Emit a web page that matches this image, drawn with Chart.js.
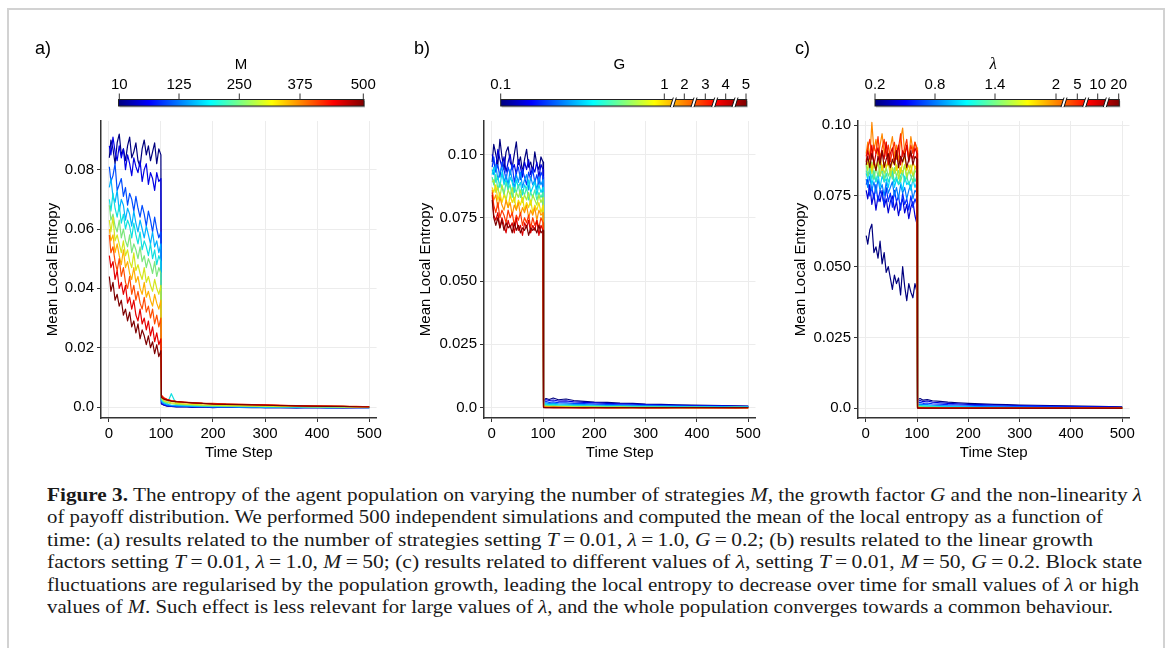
<!DOCTYPE html>
<html>
<head>
<meta charset="utf-8">
<script src="https://cdn.jsdelivr.net/npm/chart.js@4.4.0/dist/chart.umd.min.js"></script>
<style>
html, body { margin: 0; padding: 0; background: #fff; }
body { width: 1167px; height: 648px; position: relative; overflow: hidden; font-family: 'Liberation Sans', Arial, sans-serif; }
.frame { position: absolute; left: 7px; top: 8px; width: 1154px; height: 700px; border: 2px solid #d2d2d2; }
canvas { position: absolute; }
#overlay { position: absolute; left: 0; top: 0; }
.cap { position: absolute; left: 47px; white-space: nowrap; font-family: 'Liberation Serif', 'Times New Roman', serif;
       font-size: 18px; line-height: 22px; height: 22px; color: #1a1a1a; transform-origin: 0 50%; }
</style>
</head>
<body>
<div class="frame"></div>

<canvas id="chartA" width="345" height="353" style="left:40px;top:109px"></canvas>
<canvas id="chartB" width="351" height="353" style="left:413px;top:109px"></canvas>
<canvas id="chartC" width="350" height="353" style="left:788px;top:109px"></canvas>
<svg id="overlay" width="1167" height="120"></svg>

<div class="cap" data-w="1095" style="top:484px"><b>Figure 3.</b> The entropy of the agent population on varying the number of strategies <i>M</i>, the growth factor <i>G</i> and the non-linearity <i>λ</i></div>
<div class="cap" data-w="1056" style="top:506px">of payoff distribution. We performed 500 independent simulations and computed the mean of the local entropy as a function of</div>
<div class="cap" data-w="1046" style="top:529px">time: (a) results related to the number of strategies setting <i>T</i>&#8201;=&#8201;0.01, <i>λ</i>&#8201;=&#8201;1.0, <i>G</i>&#8201;=&#8201;0.2; (b) results related to the linear growth</div>
<div class="cap" data-w="1095" style="top:551px">factors setting <i>T</i>&#8201;=&#8201;0.01, <i>λ</i>&#8201;=&#8201;1.0, <i>M</i>&#8201;=&#8201;50; (c) results related to different values of <i>λ</i>, setting <i>T</i>&#8201;=&#8201;0.01, <i>M</i>&#8201;=&#8201;50, <i>G</i>&#8201;=&#8201;0.2. Block state</div>
<div class="cap" data-w="1092" style="top:574px">fluctuations are regularised by the population growth, leading the local entropy to decrease over time for small values of <i>λ</i> or high</div>
<div class="cap" data-w="1066" style="top:596px">values of <i>M</i>. Such effect is less relevant for large values of <i>λ</i>, and the whole population converges towards a common behaviour.</div>

<script>
// time steps shared by every curve (dense before the switch at t = 100, sparse after)
const timeSteps = [1,4,8,12,16,20,24,28,32,36,40,44,48,52,56,60,64,68,72,76,80,84,88,92,96,100,
  101,106,112,120,130,145,160,180,200,225,250,275,300,330,360,390,420,450,475,500];

const xTickValues = [0, 100, 200, 300, 400, 500];

// panel a) - number of strategies M
const entropyM10 = [
  0.084,0.090,0.087,0.082,0.089,0.092,0.085,0.087,0.083,0.088,0.091,0.084,0.086,
  0.089,0.083,0.081,0.087,0.090,0.085,0.088,0.083,0.086,0.089,0.082,0.087,0.085,
  0.0010,0.0006,0.0003,0.0002,0.0000,0.0001,-0.0001,0.0000,-0.0002,0.0000,
  -0.0001,-0.0002,-0.0001,-0.0002,-0.0003,-0.0001,-0.0002,-0.0003,-0.0002,-0.0002];
const entropyM60 = [
  0.088,0.085,0.091,0.086,0.083,0.088,0.084,0.087,0.080,0.085,0.082,0.078,0.084,
  0.081,0.079,0.083,0.076,0.080,0.082,0.075,0.079,0.077,0.073,0.079,0.076,0.077,
  0.0012,0.0007,0.0004,0.0003,0.0001,0.0002,0.0000,0.0001,-0.0001,0.0000,
  -0.0001,0.0000,-0.0002,-0.0001,-0.0002,-0.0001,-0.0003,-0.0002,-0.0001,-0.0002];
const entropyM110 = [
  0.081,0.076,0.078,0.082,0.073,0.075,0.077,0.071,0.074,0.068,0.072,0.070,0.066,
  0.071,0.067,0.064,0.068,0.065,0.061,0.066,0.063,0.059,0.064,0.060,0.057,0.059,
  0.0016,0.0010,0.0006,0.0004,0.0003,0.0002,0.0001,0.0002,0.0000,0.0001,
  -0.0001,0.0000,-0.0001,0.0000,-0.0002,-0.0001,-0.0002,-0.0001,-0.0002,-0.0001];
const entropyM160 = [
  0.074,0.077,0.071,0.069,0.073,0.066,0.070,0.068,0.063,0.067,0.065,0.061,0.066,
  0.062,0.059,0.063,0.060,0.057,0.061,0.058,0.055,0.059,0.054,0.056,0.052,0.055,
  0.0020,0.0013,0.0009,0.0006,0.0005,0.0004,0.0003,0.0002,0.0001,0.0002,
  0.0000,0.0001,-0.0001,0.0000,-0.0001,0.0000,-0.0002,-0.0001,-0.0001,-0.0002];
const entropyM210 = [
  0.070,0.066,0.072,0.067,0.064,0.068,0.062,0.065,0.060,0.063,0.061,0.057,0.062,
  0.058,0.055,0.059,0.053,0.056,0.054,0.051,0.055,0.050,0.053,0.048,0.051,0.049,
  0.0024,0.0015,0.0011,0.0045,0.0008,0.0006,0.0005,0.0004,0.0003,0.0002,
  0.0002,0.0001,0.0001,0.0000,0.0001,0.0000,-0.0001,0.0000,-0.0001,-0.0001];
const entropyM260 = [
  0.068,0.063,0.065,0.061,0.059,0.063,0.057,0.060,0.056,0.054,0.058,0.052,0.055,
  0.053,0.050,0.054,0.049,0.051,0.047,0.050,0.048,0.045,0.049,0.044,0.047,0.045,
  0.0028,0.0018,0.0014,0.0011,0.0009,0.0008,0.0006,0.0005,0.0004,0.0004,
  0.0003,0.0002,0.0002,0.0001,0.0001,0.0000,0.0001,0.0000,-0.0001,0.0000];
const entropyM310 = [
  0.063,0.059,0.064,0.056,0.058,0.055,0.052,0.056,0.051,0.053,0.049,0.047,0.052,
  0.046,0.048,0.045,0.043,0.047,0.042,0.044,0.041,0.039,0.043,0.040,0.038,0.041,
  0.0032,0.0021,0.0017,0.0014,0.0012,0.0010,0.0009,0.0007,0.0006,0.0005,
  0.0005,0.0004,0.0003,0.0002,0.0002,0.0001,0.0001,0.0000,0.0001,0.0000];
const entropyM360 = [
  0.060,0.056,0.058,0.052,0.055,0.051,0.048,0.053,0.047,0.049,0.045,0.043,0.047,
  0.042,0.044,0.040,0.038,0.042,0.037,0.039,0.036,0.034,0.038,0.035,0.033,0.036,
  0.0036,0.0027,0.0022,0.0019,0.0016,0.0014,0.0013,0.0011,0.0010,0.0009,
  0.0008,0.0007,0.0006,0.0005,0.0004,0.0003,0.0003,0.0002,0.0001,0.0001];
const entropyM410 = [
  0.058,0.052,0.054,0.049,0.046,0.050,0.044,0.047,0.042,0.040,0.044,0.038,0.041,
  0.036,0.039,0.035,0.033,0.037,0.032,0.034,0.030,0.033,0.028,0.031,0.027,0.030,
  0.0040,0.0031,0.0026,0.0022,0.0019,0.0017,0.0015,0.0013,0.0012,0.0010,
  0.0009,0.0008,0.0007,0.0006,0.0005,0.0004,0.0003,0.0002,0.0002,0.0001];
const entropyM460 = [
  0.051,0.047,0.049,0.043,0.046,0.040,0.042,0.038,0.041,0.035,0.037,0.033,0.036,
  0.031,0.029,0.033,0.028,0.030,0.026,0.029,0.024,0.027,0.022,0.025,0.021,0.023,
  0.0038,0.0029,0.0025,0.0021,0.0018,0.0016,0.0014,0.0012,0.0011,0.0010,
  0.0009,0.0008,0.0007,0.0006,0.0004,0.0003,0.0003,0.0002,0.0001,0.0001];
const entropyM500 = [
  0.044,0.039,0.042,0.036,0.038,0.034,0.036,0.031,0.033,0.029,0.032,0.027,0.029,
  0.025,0.028,0.023,0.026,0.024,0.021,0.024,0.020,0.022,0.018,0.021,0.017,0.019,
  0.0032,0.0026,0.0023,0.0020,0.0018,0.0016,0.0014,0.0012,0.0010,0.0009,
  0.0008,0.0007,0.0006,0.0005,0.0004,0.0003,0.0002,0.0002,0.0001,0.0000];

// panel b) - growth factor G
const entropyG01 = [
  0.097,0.104,0.100,0.096,0.106,0.099,0.094,0.101,0.103,0.097,0.095,0.100,0.105,
  0.096,0.099,0.093,0.098,0.102,0.095,0.097,0.093,0.101,0.096,0.094,0.099,0.097,
  0.0030,0.0036,0.0032,0.0038,0.0031,0.0034,0.0028,0.0025,0.0022,0.0021,
  0.0018,0.0017,0.0014,0.0013,0.0011,0.0010,0.0009,0.0008,0.0007,0.0006];
const entropyG02 = [
  0.100,0.097,0.094,0.102,0.098,0.095,0.099,0.093,0.097,0.100,0.094,0.096,0.092,
  0.098,0.095,0.091,0.097,0.094,0.098,0.092,0.095,0.093,0.097,0.091,0.096,0.094,
  0.0027,0.0031,0.0028,0.0030,0.0026,0.0027,0.0023,0.0021,0.0019,0.0017,
  0.0015,0.0014,0.0012,0.0011,0.0009,0.0008,0.0007,0.0007,0.0006,0.0005];
const entropyG03 = [
  0.095,0.099,0.093,0.096,0.091,0.097,0.094,0.090,0.095,0.092,0.096,0.089,0.093,
  0.095,0.090,0.094,0.091,0.088,0.093,0.090,0.094,0.089,0.092,0.088,0.093,0.091,
  0.0022,0.0024,0.0021,0.0023,0.0020,0.0019,0.0017,0.0016,0.0014,0.0013,
  0.0011,0.0010,0.0009,0.0008,0.0007,0.0006,0.0006,0.0005,0.0004,0.0004];
const entropyG04 = [
  0.094,0.092,0.096,0.090,0.093,0.095,0.089,0.092,0.088,0.094,0.090,0.087,0.092,
  0.089,0.093,0.087,0.090,0.092,0.086,0.091,0.088,0.090,0.086,0.091,0.088,0.090,
  0.0017,0.0019,0.0016,0.0017,0.0015,0.0014,0.0013,0.0012,0.0010,0.0009,
  0.0008,0.0007,0.0007,0.0006,0.0005,0.0004,0.0004,0.0003,0.0003,0.0003];
const entropyG05 = [
  0.092,0.095,0.089,0.091,0.087,0.093,0.088,0.090,0.086,0.091,0.089,0.085,0.090,
  0.087,0.089,0.084,0.088,0.086,0.090,0.085,0.087,0.089,0.084,0.088,0.085,0.087,
  0.0013,0.0014,0.0012,0.0013,0.0011,0.0010,0.0009,0.0008,0.0007,0.0006,
  0.0006,0.0005,0.0004,0.0004,0.0003,0.0003,0.0002,0.0002,0.0002,0.0002];
const entropyG06 = [
  0.091,0.088,0.092,0.086,0.089,0.087,0.084,0.089,0.086,0.088,0.083,0.087,0.085,
  0.088,0.083,0.086,0.084,0.087,0.082,0.085,0.083,0.086,0.082,0.085,0.083,0.085,
  0.0009,0.0010,0.0008,0.0009,0.0007,0.0007,0.0006,0.0005,0.0005,0.0004,
  0.0003,0.0003,0.0003,0.0002,0.0002,0.0001,0.0002,0.0001,0.0001,0.0001];
const entropyG07 = [
  0.089,0.090,0.085,0.087,0.083,0.088,0.085,0.082,0.086,0.084,0.087,0.081,0.085,
  0.083,0.086,0.081,0.084,0.082,0.085,0.080,0.084,0.082,0.080,0.084,0.081,0.083,
  0.0006,0.0006,0.0005,0.0005,0.0004,0.0004,0.0003,0.0003,0.0002,0.0002,
  0.0002,0.0001,0.0001,0.0001,0.0000,0.0001,0.0000,0.0000,0.0001,0.0000];
const entropyG08 = [
  0.087,0.085,0.088,0.082,0.085,0.081,0.084,0.082,0.079,0.084,0.081,0.083,0.078,
  0.082,0.080,0.083,0.078,0.081,0.079,0.082,0.077,0.080,0.078,0.081,0.077,0.080,
  0.0003,0.0004,0.0003,0.0003,0.0002,0.0002,0.0001,0.0001,0.0001,0.0000,
  0.0001,0.0000,-0.0001,0.0000,0.0000,-0.0001,0.0000,0.0000,-0.0001,0.0000];
const entropyG1 = [
  0.086,0.082,0.084,0.079,0.083,0.080,0.078,0.082,0.079,0.081,0.076,0.080,0.078,
  0.081,0.076,0.079,0.077,0.080,0.075,0.078,0.076,0.079,0.074,0.078,0.076,0.077,
  0.0002,0.0002,0.0001,0.0002,0.0001,0.0001,0.0000,0.0001,0.0000,0.0000,
  -0.0001,0.0000,0.0000,-0.0001,0.0000,0.0000,-0.0001,0.0000,0.0000,-0.0001];
const entropyG2 = [
  0.085,0.080,0.077,0.081,0.075,0.078,0.076,0.073,0.078,0.075,0.077,0.072,0.076,
  0.074,0.077,0.072,0.075,0.073,0.076,0.071,0.075,0.072,0.074,0.071,0.075,0.073,
  0.0001,0.0001,0.0001,0.0000,0.0001,0.0000,0.0000,0.0000,0.0000,-0.0001,
  0.0000,0.0000,0.0000,-0.0001,0.0000,0.0000,0.0000,-0.0001,0.0000,0.0000];
const entropyG3 = [
  0.084,0.076,0.074,0.077,0.071,0.075,0.072,0.069,0.074,0.071,0.073,0.069,0.075,
  0.070,0.072,0.068,0.073,0.071,0.074,0.069,0.072,0.070,0.074,0.068,0.072,0.070,
  0.0001,0.0000,0.0000,0.0001,0.0000,0.0000,0.0000,-0.0001,0.0000,0.0000,
  0.0000,0.0000,-0.0001,0.0000,0.0000,0.0000,0.0000,0.0000,-0.0001,0.0000];
const entropyG5 = [
  0.082,0.075,0.072,0.075,0.071,0.074,0.070,0.073,0.071,0.072,0.069,0.073,0.070,
  0.072,0.069,0.071,0.070,0.072,0.068,0.071,0.070,0.071,0.069,0.072,0.069,0.070,
  0.0000,0.0000,0.0000,0.0000,0.0000,0.0000,0.0000,0.0000,0.0000,0.0000,
  0.0000,0.0000,0.0000,0.0000,0.0000,0.0000,0.0000,0.0000,0.0000,0.0000];

// panel c) - payoff non-linearity lambda
const entropyL0_2 = [
  0.061,0.058,0.063,0.065,0.055,0.057,0.053,0.059,0.051,0.055,0.048,0.050,0.046,
  0.042,0.047,0.044,0.046,0.040,0.050,0.043,0.038,0.044,0.041,0.039,0.044,0.041,
  0.0030,0.0034,0.0028,0.0030,0.0026,0.0024,0.0021,0.0019,0.0017,0.0015,
  0.0013,0.0012,0.0011,0.0010,0.0009,0.0008,0.0007,0.0006,0.0005,0.0004];
const entropyL0_4 = [
  0.077,0.074,0.079,0.072,0.076,0.070,0.075,0.073,0.077,0.071,0.074,0.069,0.073,
  0.075,0.070,0.073,0.068,0.072,0.074,0.069,0.072,0.067,0.071,0.073,0.068,0.065,
  0.0024,0.0027,0.0023,0.0025,0.0021,0.0019,0.0017,0.0015,0.0013,0.0012,
  0.0011,0.0010,0.0009,0.0008,0.0007,0.0006,0.0005,0.0005,0.0004,0.0003];
const entropyL0_6 = [
  0.079,0.081,0.075,0.078,0.074,0.079,0.073,0.077,0.075,0.072,0.078,0.073,0.076,
  0.071,0.077,0.073,0.075,0.070,0.076,0.072,0.074,0.070,0.075,0.071,0.074,0.072,
  0.0018,0.0020,0.0017,0.0018,0.0015,0.0014,0.0012,0.0011,0.0010,0.0009,
  0.0008,0.0007,0.0006,0.0006,0.0005,0.0004,0.0004,0.0003,0.0003,0.0002];
const entropyL0_8 = [
  0.081,0.078,0.082,0.077,0.080,0.076,0.081,0.077,0.079,0.075,0.080,0.076,0.078,
  0.080,0.075,0.078,0.074,0.079,0.076,0.078,0.074,0.077,0.079,0.074,0.077,0.076,
  0.0013,0.0014,0.0012,0.0012,0.0010,0.0009,0.0008,0.0007,0.0006,0.0006,
  0.0005,0.0004,0.0004,0.0003,0.0003,0.0002,0.0002,0.0002,0.0001,0.0001];
const entropyL1_0 = [
  0.083,0.081,0.084,0.079,0.082,0.080,0.083,0.078,0.082,0.080,0.081,0.078,0.082,
  0.083,0.078,0.081,0.079,0.080,0.077,0.082,0.079,0.080,0.077,0.081,0.078,0.080,
  0.0009,0.0010,0.0008,0.0008,0.0007,0.0006,0.0005,0.0005,0.0004,0.0003,
  0.0003,0.0002,0.0002,0.0002,0.0001,0.0001,0.0001,0.0000,0.0001,0.0000];
const entropyL1_2 = [
  0.084,0.082,0.085,0.081,0.084,0.080,0.083,0.082,0.085,0.080,0.083,0.080,0.082,
  0.084,0.080,0.082,0.079,0.082,0.084,0.080,0.082,0.079,0.081,0.083,0.080,0.082,
  0.0006,0.0007,0.0006,0.0005,0.0005,0.0004,0.0003,0.0003,0.0002,0.0002,
  0.0001,0.0001,0.0001,0.0000,0.0000,0.0001,0.0000,-0.0001,0.0000,0.0000];
const entropyL1_4 = [
  0.086,0.082,0.084,0.087,0.081,0.085,0.082,0.086,0.083,0.081,0.085,0.082,0.084,
  0.081,0.085,0.082,0.084,0.080,0.083,0.086,0.081,0.084,0.082,0.080,0.084,0.083,
  0.0004,0.0005,0.0004,0.0003,0.0003,0.0002,0.0002,0.0001,0.0001,0.0001,
  0.0000,0.0000,-0.0001,0.0000,0.0000,-0.0001,0.0000,0.0000,-0.0001,0.0000];
const entropyL1_6 = [
  0.087,0.084,0.088,0.083,0.086,0.084,0.087,0.082,0.086,0.083,0.085,0.087,0.082,
  0.085,0.083,0.086,0.081,0.085,0.083,0.086,0.082,0.084,0.086,0.082,0.085,0.084,
  0.0003,0.0003,0.0002,0.0002,0.0002,0.0001,0.0001,0.0001,0.0000,0.0000,
  0.0000,-0.0001,0.0000,0.0000,-0.0001,0.0000,0.0000,0.0000,-0.0001,0.0000];
const entropyL1_8 = [
  0.088,0.086,0.089,0.084,0.088,0.085,0.087,0.090,0.084,0.087,0.085,0.088,0.084,
  0.087,0.089,0.084,0.086,0.083,0.087,0.089,0.084,0.086,0.083,0.087,0.085,0.086,
  0.0002,0.0002,0.0002,0.0001,0.0001,0.0001,0.0000,0.0001,0.0000,0.0000,
  -0.0001,0.0000,0.0000,0.0000,-0.0001,0.0000,0.0000,-0.0001,0.0000,0.0000];
const entropyL2 = [
  0.090,0.094,0.088,0.101,0.091,0.095,0.089,0.093,0.097,0.090,0.094,0.088,0.092,
  0.096,0.089,0.093,0.087,0.095,0.099,0.090,0.093,0.088,0.096,0.091,0.094,0.092,
  0.0002,0.0001,0.0001,0.0001,0.0001,0.0000,0.0000,0.0001,0.0000,0.0000,
  0.0000,-0.0001,0.0000,0.0000,0.0000,-0.0001,0.0000,0.0000,0.0000,-0.0001];
const entropyL5 = [
  0.089,0.092,0.095,0.088,0.093,0.090,0.096,0.088,0.092,0.095,0.089,0.093,0.087,
  0.091,0.094,0.088,0.092,0.097,0.089,0.092,0.095,0.088,0.093,0.090,0.094,0.091,
  0.0001,0.0001,0.0001,0.0000,0.0001,0.0000,0.0000,0.0000,0.0000,0.0000,
  0.0000,0.0000,0.0000,-0.0001,0.0000,0.0000,0.0000,0.0000,0.0000,0.0000];
const entropyL10 = [
  0.087,0.091,0.088,0.093,0.086,0.090,0.092,0.087,0.091,0.088,0.094,0.086,0.090,
  0.092,0.087,0.090,0.093,0.086,0.091,0.089,0.093,0.087,0.090,0.088,0.092,0.090,
  0.0001,0.0000,0.0000,0.0000,0.0000,0.0000,0.0000,0.0000,0.0000,0.0000,
  0.0000,0.0000,0.0000,0.0000,0.0000,0.0000,0.0000,0.0000,0.0000,0.0000];
const entropyL20 = [
  0.086,0.089,0.085,0.090,0.087,0.084,0.089,0.086,0.091,0.085,0.088,0.090,0.085,
  0.088,0.086,0.091,0.085,0.089,0.087,0.090,0.085,0.088,0.091,0.086,0.089,0.088,
  0.0000,0.0000,0.0000,0.0000,0.0000,0.0000,0.0000,0.0000,0.0000,0.0000,
  0.0000,0.0000,0.0000,0.0000,0.0000,0.0000,0.0000,0.0000,0.0000,0.0000];

// y ticks per panel
const yTickValuesA = [0, 0.02, 0.04, 0.06, 0.08];
const yTickLabelsA = ['0.0', '0.02', '0.04', '0.06', '0.08'];
const yTickValuesBC = [0, 0.025, 0.05, 0.075, 0.1];
const yTickLabelsBC = ['0.0', '0.025', '0.050', '0.075', '0.10'];

// colour bar tick labels
const mBarLabels = ['10', '125', '250', '375', '500'];
const gBarLabels = ['0.1', '1', '2', '3', '4', '5'];
const lambdaBarLabels = ['0.2', '0.8', '1.4', '2', '5', '10', '20'];

const seriesA = [entropyM10, entropyM60, entropyM110, entropyM160, entropyM210, entropyM260,
  entropyM310, entropyM360, entropyM410, entropyM460, entropyM500];
const seriesB = [entropyG01, entropyG02, entropyG03, entropyG04, entropyG05, entropyG06,
  entropyG07, entropyG08, entropyG1, entropyG2, entropyG3, entropyG5];
const seriesC = [entropyL0_2, entropyL0_4, entropyL0_6, entropyL0_8, entropyL1_0, entropyL1_2,
  entropyL1_4, entropyL1_6, entropyL1_8, entropyL2, entropyL5, entropyL10, entropyL20];

// jet-like palettes
const coloursA = ['#00007F','#0000E5','#004CFF','#00B2FF','#10E0E0','#7CE67C','#D6E61A','#FFB000','#FF4C00','#E50000','#7F0000'];
const coloursB = ['#00007F','#0000DB','#0038FF','#0094FF','#00D8F0','#40EBA8','#A8EB3C','#F5DC00','#FF9400','#FF3800','#DB0000','#7F0000'];
const coloursC = ['#00007F','#0000D4','#0029FF','#007DFF','#00D0FF','#20E8C8','#6EE87A','#BCE82E','#F5D000','#FF8800','#FF3000','#D90000','#7F0000'];

Chart.defaults.font.family = "'Liberation Sans', Arial, sans-serif";
Chart.defaults.color = '#000';

function makePanel(id, series, colours, yMin, yMax, yValues, yLabels, yWidth) {
  const datasets = series.map((vals, i) => ({
    data: timeSteps.map((t, k) => ({ x: t, y: vals[k] })),
    borderColor: colours[i],
    borderWidth: 1.2,
    borderJoinStyle: 'round',
    pointRadius: 0,
    tension: 0,
    order: series.length - i   // red curves on top
  }));

  return new Chart(document.getElementById(id), {
    type: 'line',
    data: { datasets },
    options: {
      responsive: false,
      animation: false,
      devicePixelRatio: 1,
      layout: { padding: { top: 10, right: 8, left: 0, bottom: 0 } },
      plugins: { legend: { display: false }, tooltip: { enabled: false } },
      scales: {
        x: {
          type: 'linear', min: -15, max: 514,
          afterBuildTicks: s => { s.ticks = xTickValues.map(v => ({ value: v })); },
          afterFit: s => { s.height = 44; },
          grid: { color: '#ececec', tickColor: '#333', tickLength: 4 },
          border: { color: '#333', width: 1.5 },
          ticks: { font: { size: 15 }, color: '#000', padding: 3, maxRotation: 0, autoSkip: false },
          title: { display: true, text: 'Time Step', font: { size: 15 }, color: '#000', padding: { top: 0, bottom: 0 } }
        },
        y: {
          min: yMin, max: yMax,
          afterBuildTicks: s => { s.ticks = yValues.map(v => ({ value: v })); },
          afterFit: s => { s.width = yWidth; },
          grid: { color: '#ececec', tickColor: '#333', tickLength: 4 },
          border: { color: '#333', width: 1.5 },
          ticks: { font: { size: 15 }, color: '#000', padding: 3, autoSkip: false,
                   callback: (v, i) => yLabels[i] },
          title: { display: true, text: 'Mean Local Entropy', font: { size: 15 }, color: '#000', padding: { top: 4, bottom: 0 } }
        }
      }
    }
  });
}

makePanel('chartA', seriesA, coloursA, -0.0037, 0.0964, yTickValuesA, yTickLabelsA, 61);
makePanel('chartB', seriesB, coloursB, -0.0041, 0.1132, yTickValuesBC, yTickLabelsBC, 71);
makePanel('chartC', seriesC, coloursC, -0.0035, 0.1015, yTickValuesBC, yTickLabelsBC, 70);

// colour bars and panel letters
const svgNS = 'http://www.w3.org/2000/svg';
const svg = document.getElementById('overlay');
function add(tag, attrs, text) {
  const el = document.createElementNS(svgNS, tag);
  for (const k in attrs) el.setAttribute(k, attrs[k]);
  if (text != null) el.textContent = text;
  svg.appendChild(el);
  return el;
}

const defs = add('defs', {});
const grad = document.createElementNS(svgNS, 'linearGradient');
grad.setAttribute('id', 'jet');
['#00007F','#0000FF','#007FFF','#00FFFF','#7FFF7F','#FFFF00','#FF7F00','#FF0000','#7F0000'].forEach((c, i) => {
  const st = document.createElementNS(svgNS, 'stop');
  st.setAttribute('offset', (i / 8).toString());
  st.setAttribute('stop-color', c);
  grad.appendChild(st);
});
defs.appendChild(grad);

function colourBar(x0, x1, tickX, labels, breakX, title, titleX, titleItalic) {
  const top = 99.5, h = 6.5;
  add('rect', { x: x0 + 1, y: top + 1.5, width: x1 - x0, height: h, fill: '#9a9a9a', opacity: 0.6 });
  add('rect', { x: x0, y: top, width: x1 - x0, height: h, fill: 'url(#jet)', stroke: '#222', 'stroke-width': 1 });
  tickX.forEach((x, i) => {
    add('line', { x1: x, x2: x, y1: top - 6, y2: top, stroke: '#333', 'stroke-width': 1 });
    add('text', { x: x, y: 83.5, 'text-anchor': 'middle', 'dominant-baseline': 'central',
                  'font-size': 15, fill: '#000' }, labels[i]);
  });
  breakX.forEach(x => {
    add('polygon', { points: `${x - 4},${top + h + 1} ${x - 1},${top + h + 1} ${x + 2},${top - 2} ${x - 1},${top - 2}`, fill: '#fff' });
    add('line', { x1: x - 4, y1: top + h + 1, x2: x - 1, y2: top - 2, stroke: '#111', 'stroke-width': 1 });
    add('line', { x1: x - 1, y1: top + h + 1, x2: x + 2, y2: top - 2, stroke: '#111', 'stroke-width': 1 });
  });
  const t = add('text', { x: titleX, y: 63, 'text-anchor': 'middle', 'dominant-baseline': 'central',
                          'font-size': titleItalic ? 17 : 15, fill: '#000' }, title);
  if (titleItalic) { t.setAttribute('font-style', 'italic'); t.setAttribute('font-family', "'Liberation Serif', serif"); }
}

colourBar(118.5, 364, [119.3, 179, 239.3, 300, 363.3], mBarLabels, [], 'M', 241, false);
colourBar(500.7, 746.7, [500.7, 664.3, 684.3, 705.3, 725.7, 746], gBarLabels, [674.3, 695, 715.7, 736], 'G', 619.3, false);
colourBar(875, 1119.3, [875, 935, 995, 1056, 1077.3, 1097.7, 1118.7], lambdaBarLabels, [1065, 1086.7, 1107.3], 'λ', 993.3, true);

[['a)', 35], ['b)', 414], ['c)', 795]].forEach(([txt, x]) => {
  add('text', { x: x, y: 48, 'dominant-baseline': 'central', 'font-size': 18, fill: '#000' }, txt);
});

// fit each caption line to its measured width in the original
document.querySelectorAll('.cap').forEach(el => {
  const w = el.getBoundingClientRect().width;
  el.style.transform = `scaleX(${(+el.dataset.w / w).toFixed(4)})`;
});
</script>
</body>
</html>
